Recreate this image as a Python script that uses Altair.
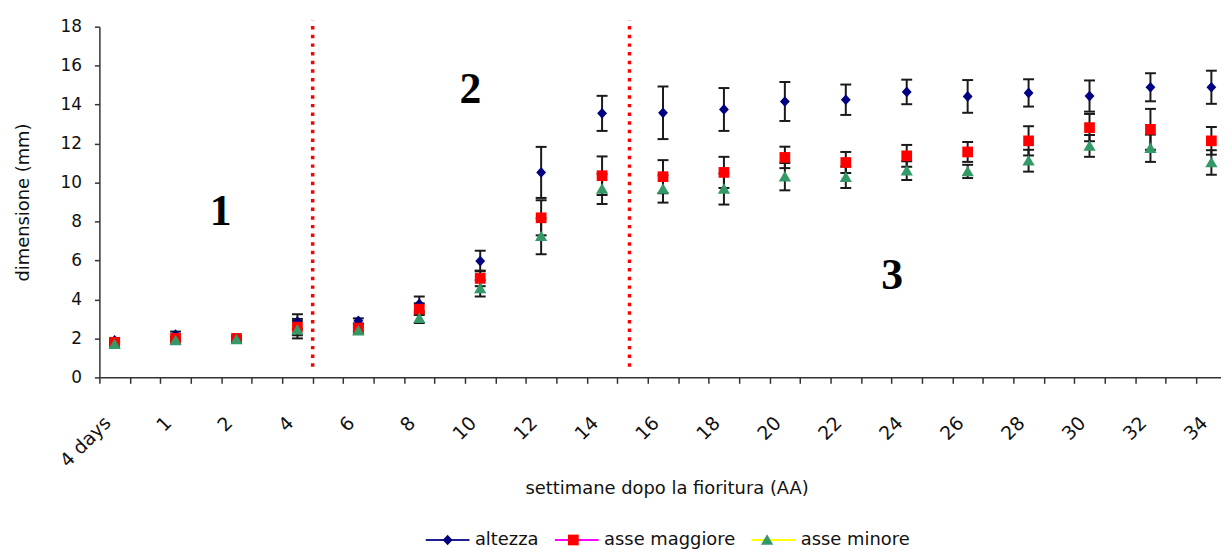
import altair as alt
import pandas as pd

# ---------------- data ----------------
categories = ["4 days", "1", "2", "4", "6", "8", "10", "12", "14", "16",
              "18", "20", "22", "24", "26", "28", "30", "32", "34"]
series_names = ["altezza", "asse maggiore", "asse minore"]

altezza = [1.9, 2.2, 2.0, 2.86, 2.9, 3.77, 5.97, 10.52, 13.55, 13.58,
           13.75, 14.16, 14.25, 14.65, 14.42, 14.6, 14.44, 14.89, 14.89]
altezza_err = [0.1, 0.15, 0.1, 0.38, 0.13, 0.38, 0.53, 1.31, 0.9, 1.35,
               1.1, 1.0, 0.78, 0.63, 0.84, 0.7, 0.8, 0.72, 0.85]

asse_maggiore = [1.8, 2.0, 2.0, 2.58, 2.53, 3.5, 5.08, 8.19, 10.35, 10.3,
                 10.52, 11.29, 11.03, 11.37, 11.57, 12.14, 12.82, 12.73, 12.14]
asse_maggiore_err = [0.1, 0.1, 0.1, 0.42, 0.15, 0.3, 0.4, 0.9, 0.99, 0.85,
                     0.8, 0.55, 0.54, 0.56, 0.51, 0.75, 0.7, 1.05, 0.71]

asse_minore = [1.7, 1.9, 1.95, 2.45, 2.4, 3.04, 4.57, 7.24, 9.67, 9.67,
               9.67, 10.3, 10.27, 10.61, 10.57, 11.12, 11.88, 11.76, 11.03]
asse_minore_err = [0.1, 0.1, 0.1, 0.45, 0.15, 0.25, 0.42, 0.92, 0.77, 0.7,
                   0.8, 0.7, 0.55, 0.48, 0.34, 0.56, 0.56, 0.7, 0.63]

separator_positions = [3.25, 8.45]
phase_labels = ["1", "2", "3"]
phase_x = [1.74, 5.84, 12.76]
phase_y = [8.47, 14.76, 5.21]

# ---------------- styles ----------------
marker_colors = ["#000080", "#FF0000", "#339966"]
line_colors = ["#1F1F8F", "#FF00FF", "#FFFF00"]
marker_paths = [
    "M0,-0.245L0.225,0L0,0.245L-0.225,0Z",
    "M-0.245,-0.245H0.245V0.245H-0.245Z",
    "M0,-0.26L0.28,0.22H-0.28Z",
]
FONT = "DejaVu Sans"
LEGEND_FONT_SIZE = 18
TEXT_COLOR = "#111111"
AXIS_COLOR = "#333333"
SYMBOL_SIZE = 1936          # 44 px long legend line
SYMBOL_STROKE = 2
LABEL_OFFSET = 4.5
COLUMN_PADDING = 12

rows = []
for k, (name, vals, errs) in enumerate(zip(series_names,
                                           [altezza, asse_maggiore, asse_minore],
                                           [altezza_err, asse_maggiore_err, asse_minore_err])):
    for i, (v, e) in enumerate(zip(vals, errs)):
        rows.append({"series": name, "series_id": k, "idx": i, "value": v,
                     "lo": v - e, "hi": v + e})
df = pd.DataFrame(rows)
sep_df = pd.DataFrame({"idx": separator_positions})
phase_df = pd.DataFrame({"label": phase_labels, "idx": phase_x, "value": phase_y})

n_ticks = 37
tick_values = [-0.25 + 0.5 * k for k in range(n_ticks)]
label_array = "[" + ",".join("'" + c + "'" for c in categories) + "]"
label_expr = (f"abs((datum.value + 0.25) - round(datum.value + 0.25)) < 0.01 ? "
              f"{label_array}[round(datum.value + 0.25)] : ''")
series_array = "[" + ",".join("'" + s + "'" for s in series_names) + "]"

# legend geometry: where each line-legend entry's line is centred,
# (DejaVu Sans advance widths, em units) so that each marker sits on its line
DJV = {"a": .613, "l": .278, "t": .392, "e": .615, "z": .525, "s": .521, " ": .318,
       "m": .974, "g": .635, "i": .278, "o": .612, "r": .411, "n": .634}


def text_width(text):
    return sum(DJV.get(ch, .6) for ch in text) * LEGEND_FONT_SIZE


LEG_X = 327.5
LEG_Y = 493.7
entry_size = int(-(-((SYMBOL_SIZE ** 0.5) + SYMBOL_STROKE) // 1))   # ceil
line_centres = []
start = LEG_X
for s in series_names:
    line_centres.append(start + entry_size / 2)
    start += entry_size + LABEL_OFFSET + text_width(s) + COLUMN_PADDING
marker_entry = int(-(-(SYMBOL_SIZE ** 0.5) // 1))

X_SCALE = alt.Scale(domain=[-0.25, 18.158], nice=False, zero=False)
Y_SCALE = alt.Scale(domain=[0, 18], nice=False, zero=False)

X_AXIS = alt.Axis(
    title="settimane dopo la fioritura (AA)", values=tick_values,
    labelExpr=label_expr, labelAngle=-45, labelAlign="right", labelBaseline="top",
    labelOffset=1.5, labelPadding=30,
    labelOverlap=False, labelBound=False, labelFlush=False,
    labelFont=FONT, labelFontSize=19, labelColor=TEXT_COLOR,
    tickSize=6, tickColor=AXIS_COLOR, tickWidth=1.5,
    domainColor=AXIS_COLOR, domainWidth=1.5, grid=False,
    titleFont=FONT, titleFontSize=18, titleFontWeight="normal", titleColor=TEXT_COLOR,
    titleX=571, titleY=112, titleBaseline="middle", titleAlign="center",
)
Y_AXIS = alt.Axis(
    title="dimensione (mm)", values=list(range(0, 19, 2)),
    labelFont=FONT, labelFontSize=17, labelColor=TEXT_COLOR, labelPadding=13,
    tickSize=5, tickColor=AXIS_COLOR, tickWidth=1.5,
    domainColor=AXIS_COLOR, domainWidth=1.5, grid=False,
    titleFont=FONT, titleFontSize=18, titleFontWeight="normal", titleColor=TEXT_COLOR,
    titleX=-76, titleY=176.5, titleAngle=-90, titleBaseline="middle", titleAlign="center",
)

x_enc = alt.X("idx:Q", scale=X_SCALE, axis=X_AXIS)

legend_lines = alt.Legend(
    orient="none", legendX=LEG_X, legendY=LEG_Y, direction="horizontal",
    title=None, symbolType="stroke", symbolSize=SYMBOL_SIZE, symbolStrokeWidth=SYMBOL_STROKE,
    labelExpr=f"{series_array}[datum.value]",
    labelFont=FONT, labelFontSize=LEGEND_FONT_SIZE, labelColor=TEXT_COLOR,
    labelOffset=LABEL_OFFSET, columnPadding=COLUMN_PADDING, padding=0, zindex=1,
)

separators = alt.Chart(sep_df).mark_rule(
    color="#FF0000", strokeWidth=3.5, strokeDash=[3.5, 5.2]
).encode(
    x=x_enc,
    y=alt.YDatum(0.55, scale=Y_SCALE, axis=Y_AXIS),
    y2=alt.Y2Datum(18.3),
)

bars = alt.Chart(df).mark_rule(color="#1a1a1a", strokeWidth=2).encode(
    x=x_enc,
    y=alt.Y("lo:Q", scale=Y_SCALE, axis=Y_AXIS),
    y2="hi:Q",
)
caps_lo = alt.Chart(df).mark_tick(
    orient="horizontal", size=11, thickness=2, color="#1a1a1a", opacity=1
).encode(x=x_enc, y=alt.Y("lo:Q", scale=Y_SCALE, axis=Y_AXIS))
caps_hi = alt.Chart(df).mark_tick(
    orient="horizontal", size=11, thickness=2, color="#1a1a1a", opacity=1
).encode(x=x_enc, y=alt.Y("hi:Q", scale=Y_SCALE, axis=Y_AXIS))

points = alt.Chart(df).mark_point(
    filled=True, size=SYMBOL_SIZE, opacity=1, strokeWidth=0
).encode(
    x=x_enc,
    y=alt.Y("value:Q", scale=Y_SCALE, axis=Y_AXIS),
    fill=alt.Fill("series:N", scale=alt.Scale(domain=series_names, range=marker_colors),
                  legend=None),
    shape=alt.Shape("series:N", scale=alt.Scale(domain=series_names, range=marker_paths),
                    legend=None),
)

lines = alt.Chart(df).transform_filter("false").mark_line(strokeWidth=2).encode(
    x=x_enc,
    y=alt.Y("value:Q", scale=Y_SCALE, axis=Y_AXIS),
    stroke=alt.Stroke("series_id:N",
                      scale=alt.Scale(domain=list(range(len(series_names))), range=line_colors),
                      legend=legend_lines),
)

# one marker-only legend per series, sitting on the middle of its legend line
marker_legends = []
for k, name in enumerate(series_names):
    marker_legends.append(
        alt.Chart(df).transform_filter("false").mark_point(
            filled=True, opacity=1, strokeWidth=0, shape=marker_paths[k], size=SYMBOL_SIZE
        ).encode(
            x=x_enc,
            y=alt.Y("value:Q", scale=Y_SCALE, axis=Y_AXIS),
            fill=alt.Fill("series:N",
                          scale=alt.Scale(domain=[name], range=[marker_colors[k]]),
                          legend=alt.Legend(
                              orient="none", legendX=line_centres[k] - marker_entry / 2,
                              legendY=LEG_Y + (entry_size - marker_entry) / 2,
                              title=None, symbolType=marker_paths[k], symbolSize=SYMBOL_SIZE,
                              symbolStrokeWidth=0, symbolStrokeColor="transparent",
                              labelExpr="''", labelFontSize=1, labelOffset=0,
                              padding=0, zindex=2)),
        )
    )

texts = alt.Chart(phase_df).mark_text(
    font="Liberation Serif", fontSize=44, fontWeight="bold", color="#000000",
    align="center", baseline="middle"
).encode(
    x=x_enc,
    y=alt.Y("value:Q", scale=Y_SCALE, axis=Y_AXIS),
    text="label:N",
)

chart = alt.layer(
    separators, bars, caps_lo, caps_hi, lines, points, *marker_legends, texts
).resolve_scale(
    fill="independent"
).properties(
    width=1129, height=353,
    padding={"left": 92, "top": 17, "right": 0, "bottom": 176},
    autosize=alt.AutoSizeParams(type="none"),
    background="white",
).configure_view(stroke=None)

chart.save("out.html", embed_options={"renderer": "svg", "actions": False})
